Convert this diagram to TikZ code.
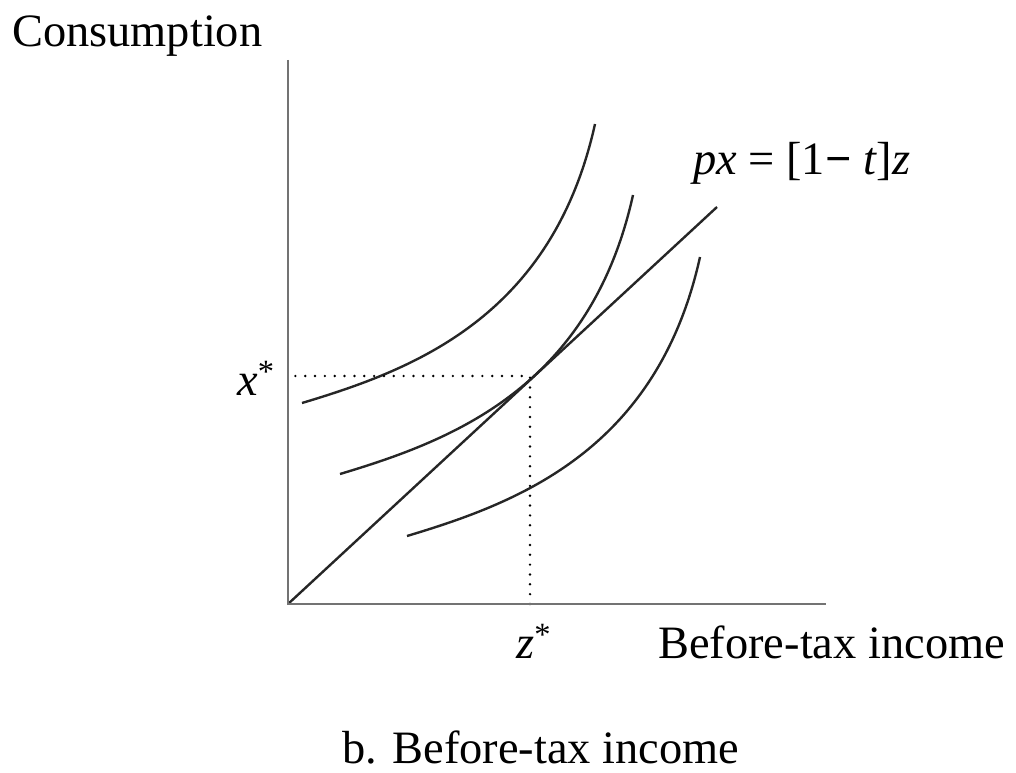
\documentclass[tikz,border=0pt]{standalone}
\usepackage{fontspec}
\setmainfont{Liberation Serif}
\begin{document}
\begin{tikzpicture}[x=0.025cm, y=-0.025cm,
    axis/.style={draw=black!55, line width=2.1pt},
    curve/.style={draw=black!85, line width=1.7pt},
    guide/.style={line width=1.9pt, dash pattern=on 0pt off 7pt, line cap=round},
    lbl/.style={anchor=base west, inner sep=0pt, font=\fontsize{33}{40}\selectfont}
]
\useasboundingbox (0,0) rectangle (1016,773);
\coordinate (O)    at (288,604);
\coordinate (ytop) at (288,60);
\coordinate (xend) at (826,604);
\coordinate (bud)  at (717,207);
\coordinate (T)    at (530,376);
\coordinate (Ty)   at (292,376);
\coordinate (Tx)   at (530,604);
% indifference curves
\foreach \sx/\sy in {302/403, 340/474, 407/536}
  \draw[curve, shift={(\sx,\sy)}] (0,0) .. controls (110,-33) and (250,-85) .. (293,-279);
\draw[curve] (O) -- (bud);
\draw[guide] (Tx) -- (T) -- (Ty);
\draw[axis] (ytop) |- (xend);
\node[lbl] (cons)  at (12,47)   {Consumption};
\node[lbl] (xstar) at (237,395) {\textit{x}\textsuperscript{*}};
\node[lbl] (zstar) at (516,658) {\textit{z}\textsuperscript{*}};
\node[lbl] (inc)   at (658,658) {Before-tax income};
\node[lbl] (bc)    at (693,175) {\textit{px} = [1\textbf{−} \textit{t}]\textit{z}};
\node[lbl] (cap)   at (342,763) {b. Before-tax income};
\end{tikzpicture}
\end{document}
